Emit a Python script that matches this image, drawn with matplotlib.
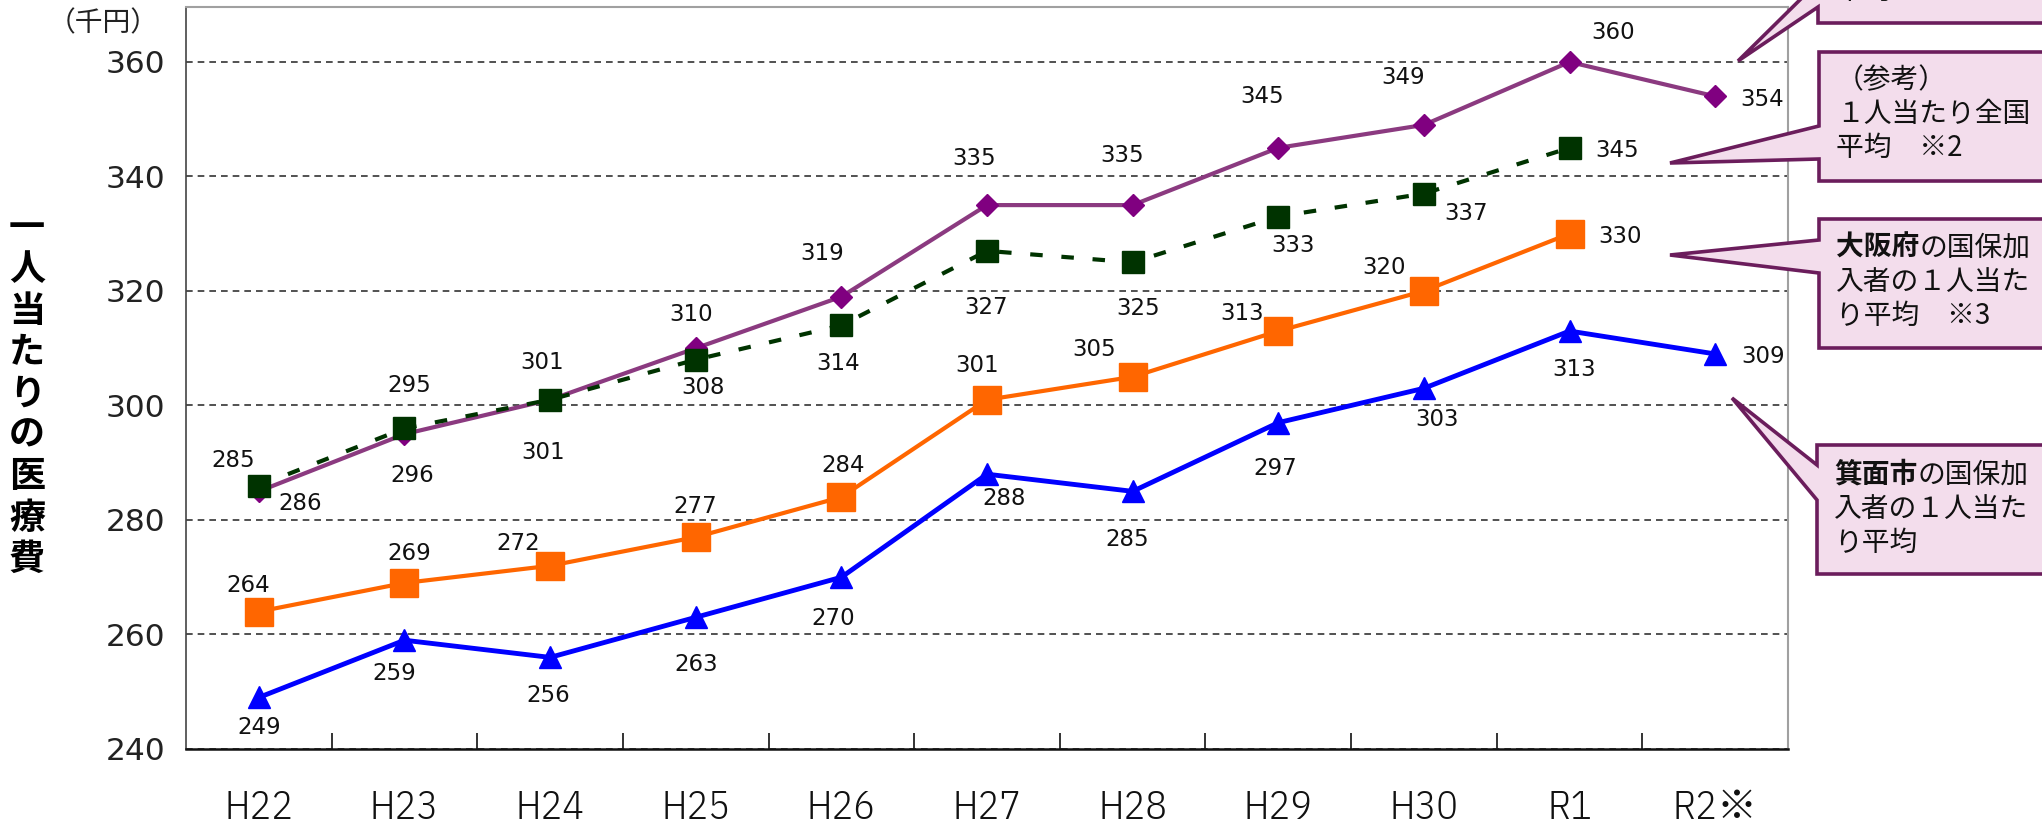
import matplotlib.pyplot as plt
from matplotlib.patches import Polygon
from matplotlib.ticker import FixedLocator, NullFormatter

# 年度別 一人当たり医療費（千円）
years = ['H22', 'H23', 'H24', 'H25', 'H26', 'H27', 'H28', 'H29', 'H30', 'R1', 'R2※']
national_kokuho = [285, 295, 301, 310, 319, 335, 335, 345, 349, 360, 354]
national_ref = [286, 296, 301, 308, 314, 327, 325, 333, 337, 345]
osaka = [264, 269, 272, 277, 284, 301, 305, 313, 320, 330]
minoh = [249, 259, 256, 263, 270, 288, 285, 297, 303, 313, 309]

# label offsets in pixels (dx right, dy down)
off_kokuho = [(-26, -31), (5, -49), (-8, -37), (-5, -34), (-19, -43), (-13, -47),
              (-11, -50), (-16, -51), (-21, -47), (44, -29), (47, 3)]
off_ref = [(41, 18), (8, 47), (-7, 53), (7, 28), (-3, 38), (-1, 57),
           (5, 46), (15, 29), (42, 20), (48, 3)]
off_osaka = [(-11, -26), (5, -29), (-32, -22), (0, -31), (2, -32), (-10, -34),
             (-39, -27), (-36, -18), (-40, -23), (51, 3)]
off_minoh = [(0, 30), (-10, 33), (-2, 38), (0, 47), (-8, 41), (17, 24),
             (-5, 48), (-3, 46), (13, 31), (5, 38), (48, 3)]

W, H = 2042, 825
CJK = ['Noto Sans CJK JP', 'DejaVu Sans']

fig = plt.figure(figsize=(W / 100, H / 100), dpi=100)
ax = fig.add_axes([186 / W, (H - 749) / H, (1788 - 186) / W, (749 - 7) / H])

x = list(range(len(years)))

ax.plot(x, national_kokuho, color='#8B3A80', lw=3, marker='D', ms=11,
        mfc='#800080', mec='#800080', zorder=3)
ax.plot(x[:len(national_ref)], national_ref, color='#003300', lw=3,
        dashes=(3, 4.5), marker='s', ms=16, mfc='#003300', mec='#003300', zorder=4)
ax.plot(x[:len(osaka)], osaka, color='#FF6600', lw=3, marker='s', ms=20,
        mfc='#FF6600', mec='#FF6600', zorder=3)
ax.plot(x, minoh, color='#0000FF', lw=3.5, marker='^', ms=16,
        mfc='#0000FF', mec='#0000FF', zorder=3)

for vals, offs in [(national_kokuho, off_kokuho), (national_ref, off_ref),
                   (osaka, off_osaka), (minoh, off_minoh)]:
    for i, v in enumerate(vals):
        dx, dy = offs[i]
        ax.annotate(str(v), (i, v), xytext=(dx, -dy), textcoords='offset pixels',
                    ha='center', va='center', fontsize=16.5, color='#111111',
                    family='DejaVu Sans', zorder=6)

ax.set_xlim(-0.5, len(years) - 0.5)
ax.set_ylim(240, 369.6)

ax.set_yticks([240, 260, 280, 300, 320, 340, 360])
ax.tick_params(axis='y', length=0, pad=15, labelsize=22.5, labelcolor='#222222')
ax.yaxis.grid(True, linestyle=(0, (4, 3)), color='#333333', lw=1.2)
ax.set_axisbelow(True)

# ticks between categories, labels at the centres
ax.xaxis.set_major_locator(FixedLocator([i + 0.5 for i in range(len(years) - 1)]))
ax.xaxis.set_major_formatter(NullFormatter())
ax.xaxis.set_minor_locator(FixedLocator(x))
ax.set_xticklabels(years, minor=True)
ax.tick_params(axis='x', which='major', direction='in', length=11.5, width=1.2, color='#111111')
ax.tick_params(axis='x', which='minor', length=0, pad=29, labelsize=29)
for lab in ax.get_xticklabels(minor=True):
    lab.set_family(['IBM Plex Sans Condensed', 'Noto Sans CJK JP'])
    lab.set_fontweight(300)
    lab.set_color('#111111')

ax.spines['left'].set_color('#444444')
ax.spines['left'].set_linewidth(1.2)
ax.spines['bottom'].set_color('#111111')
ax.spines['bottom'].set_linewidth(1.8)
for s in ['top', 'right']:
    ax.spines[s].set_color('#A0A0A0')
    ax.spines[s].set_linewidth(1.5)


def fxy(px, py):
    return (px / W, 1 - py / H)


fig.text(*fxy(103, 23), '（千円）', ha='center', va='center', fontsize=20,
         family=CJK, color='#222222')
fig.text(*fxy(27, 394), '\n'.join('一人当たりの医療費'), ha='center', va='center',
         fontsize=26, fontweight='bold', family=CJK, linespacing=1.15)


def callout(x0, y0, y1, a1, a2, tip):
    pts = [(x0, y0), (W + 20, y0), (W + 20, y1), (x0, y1), (x0, a2), tip, (x0, a1)]
    poly = Polygon([fxy(*p) for p in pts], closed=True, fc='#F3DDEC', ec='#6B1D5C',
                   lw=2.6, joinstyle='miter', transform=fig.transFigure)
    fig.add_artist(poly)


FS = 20
EM = FS * 100 / 72


def box_text(px, ys, lines, bold_head=None):
    for k, (py, line) in enumerate(zip(ys, lines)):
        if k == 0 and bold_head:
            fig.text(*fxy(px, py), bold_head, ha='left', va='center', fontsize=FS,
                     family=CJK, fontweight='bold', color='#111111')
            fig.text(*fxy(px + EM * len(bold_head), py), line, ha='left', va='center',
                     fontsize=FS, family=CJK, color='#111111')
        else:
            fig.text(*fxy(px, py), line, ha='left', va='center', fontsize=FS,
                     family=CJK, color='#111111')


callout(1818, -110, 23, -18, 7, (1738, 61))
box_text(1836, [-76, -42, -9], ['全国の国保加入', '者の１人当たり', '平均　※1'])

callout(1819, 52, 181, 126, 159, (1670, 163))
box_text(1836, [80, 114, 148], ['（参考）', '１人当たり全国', '平均　※2'])

callout(1819, 219, 348, 240, 273, (1670, 255))
box_text(1836, [248, 282, 316], ['の国保加', '入者の１人当た', 'り平均　※3'], bold_head='大阪府')

callout(1817, 445, 574, 465, 500, (1732, 398))
box_text(1834, [475, 509, 543], ['の国保加', '入者の１人当た', 'り平均'], bold_head='箕面市')

fig.savefig('out.png', dpi=100)
